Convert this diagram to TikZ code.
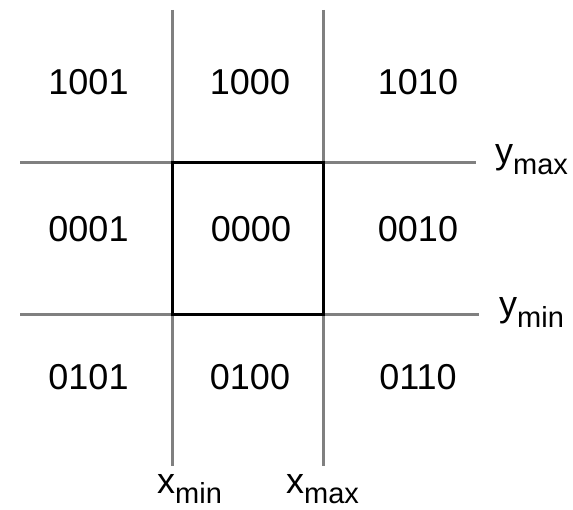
\documentclass[tikz,border=0pt]{standalone}
\usepackage{fontspec}
\setmainfont{Liberation Sans}
\definecolor{linegrey}{HTML}{808080}
\newcommand\sublab[1]{\raisebox{-11pt}[0pt][0pt]{\fontsize{29}{29}\selectfont #1}}
\newcommand\sublabx[1]{\raisebox{-10pt}[0pt][0pt]{\fontsize{29}{29}\selectfont #1}}
\begin{document}
\begin{tikzpicture}[x=1pt,y=-1pt,
  gridline/.style={draw=linegrey,line width=2.7pt},
  boxline/.style={draw=black,line width=3pt},
  code/.style={font=\fontsize{36}{40}\selectfont,inner sep=0pt},
  axlabel/.style={font=\fontsize{36}{40}\selectfont,inner sep=0pt,anchor=base west}]
\useasboundingbox (0,0) rectangle (573,510);
% grid line end points
\coordinate (v1t) at (172.5,10);
\coordinate (v1b) at (172.5,466);
\coordinate (v2t) at (323.5,10);
\coordinate (v2b) at (323.5,466);
\coordinate (h1l) at (20,162.3);
\coordinate (h1r) at (476,162.3);
\coordinate (h2l) at (20,314.3);
\coordinate (h2r) at (479,314.3);
\draw[gridline] (v1t) -- (v1b);
\draw[gridline] (v2t) -- (v2b);
\draw[gridline] (h1l) -- (h1r);
\draw[gridline] (h2l) -- (h2r);
% window
\coordinate (wtl) at (172.5,162.3);
\coordinate (wbr) at (323.5,314.3);
\draw[boxline] (wtl) rectangle (wbr);
% region codes
\node[code] (c1001) at (88.5,81.7) {1001};
\node[code] (c1000) at (250,81.7) {1000};
\node[code] (c1010) at (418,81.7) {1010};
\node[code] (c0001) at (88.5,229.6) {0001};
\node[code] (c0000) at (251,229.6) {0000};
\node[code] (c0010) at (418,229.6) {0010};
\node[code] (c0101) at (88.5,376.7) {0101};
\node[code] (c0100) at (250,376.7) {0100};
\node[code] (c0110) at (418,376.7) {0110};
% axis labels
\node[axlabel] (ymax) at (495,164) {y\sublab{max}};
\node[axlabel] (ymin) at (499,317) {y\sublab{min}};
\node[axlabel] (xmin) at (157,493) {x\sublabx{min}};
\node[axlabel] (xmax) at (286,493) {x\sublabx{max}};
\end{tikzpicture}
\end{document}
